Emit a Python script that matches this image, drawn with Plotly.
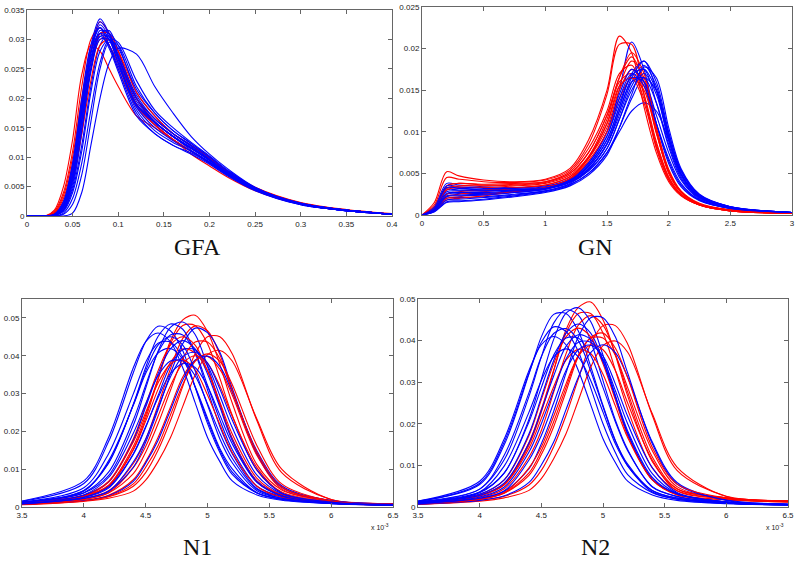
import plotly.graph_objects as go

# ---------------- data (y values in thousandths) ----------------
gfa_x = [0, 0.02, 0.03, 0.04, 0.05, 0.06, 0.07, 0.08, 0.09, 0.10, 0.12, 0.14, 0.16, 0.18, 0.20, 0.22, 0.25, 0.30, 0.35, 0.40]
gfa_red = [
    [0, 0, 0.8, 4, 11, 22, 30, 32, 29, 25, 18.5, 15.5, 13, 11, 9, 7, 4.5, 2, 1, 0.3],
    [0, 0, 0.5, 3, 9, 19, 28, 33, 31, 27, 19, 16, 13.5, 11.5, 9.5, 7.5, 4.8, 2.2, 1.0, 0.3],
    [0, 0, 0.3, 2, 7, 16, 25, 30, 30, 27, 20, 16, 13.5, 11.5, 9.5, 7.2, 4.6, 2.1, 1.0, 0.3],
    [0, 0, 1, 5, 13, 24, 29, 28, 25, 22, 17, 15, 13, 11, 9, 7, 4.4, 2.0, 1.0, 0.3],
    [0, 0, 0.4, 2.5, 8, 17, 26, 31, 31, 28, 20, 16.5, 14, 12, 10, 7.6, 4.9, 2.3, 1.1, 0.4],
    [0, 0, 0.6, 3.5, 10, 20, 28, 31, 29, 26, 19, 15.5, 13, 10.5, 8.5, 6.6, 4.3, 2.0, 0.9, 0.3],
    [0, 0, 0.2, 1.5, 6, 14, 23, 29, 30, 28, 21, 17, 14, 12, 9.8, 7.5, 4.8, 2.2, 1.0, 0.3],
]
gfa_blue = [
    [0, 0, 0.2, 2, 8, 19, 29, 33.5, 31, 27, 19, 15.5, 13, 11, 9, 7, 4.5, 2, 0.9, 0.3],
    [0, 0, 0.1, 1.5, 7, 17, 28, 33, 31, 27, 20, 16, 13.5, 11.5, 9.5, 7.2, 4.6, 2.1, 1, 0.3],
    [0, 0, 0.1, 1, 5, 14, 25, 31, 31.5, 28, 20, 16, 13.5, 11.5, 9.5, 7.3, 4.6, 2.1, 1, 0.3],
    [0, 0, 0.2, 1.8, 7.5, 18, 28, 32, 30, 26, 18, 14.5, 12.5, 11, 9.2, 7.1, 4.4, 1.9, 0.9, 0.3],
    [0, 0, 0.1, 1, 4.5, 12, 22, 29, 31, 29, 21, 17, 14, 12, 9.8, 7.4, 4.6, 2.0, 0.9, 0.3],
    [0, 0, 0.1, 0.8, 4, 11, 21, 28, 30, 28.5, 21.5, 17.5, 14.5, 12.3, 10, 7.6, 4.7, 2.1, 1, 0.3],
    [0, 0, 0.2, 2, 8, 18, 27, 31, 30, 26, 19, 16, 13.5, 11.5, 9.4, 7.2, 4.5, 2.0, 0.9, 0.3],
    [0, 0, 0.3, 2.5, 9, 20, 29, 32, 29, 25, 17.5, 14, 12, 10.5, 8.8, 6.8, 4.3, 1.9, 0.9, 0.3],
    [0, 0, 0, 0.5, 3, 9, 18, 26, 30, 29.5, 23, 18, 15, 12.5, 10.2, 7.8, 4.8, 2.1, 1, 0.3],
    [0, 0, 0, 0, 0.5, 4, 12, 20, 26, 28.5, 27.5, 22, 17.5, 13.5, 10.5, 8, 4.9, 2.1, 1, 0.3],
    [0, 0, 0, 0.3, 2, 7, 16, 25, 29.5, 29, 22, 17.5, 14.5, 12.3, 10, 7.6, 4.7, 2.1, 1, 0.3],
    [0, 0, 0.2, 1.5, 6.5, 16, 26, 31.5, 31, 27, 19.5, 16, 13.5, 11.2, 9.2, 7, 4.4, 2, 0.9, 0.3],
    [0, 0, 0.1, 1.2, 6, 15, 25, 30.5, 30.5, 27.5, 20.5, 16.5, 14, 11.8, 9.6, 7.3, 4.6, 2.1, 1, 0.3],
    [0, 0, 0.3, 2.2, 8.5, 19, 28, 31, 28.5, 24.5, 17, 14, 12, 10.7, 9, 7, 4.5, 2.0, 0.9, 0.3],
    [0, 0, 0.2, 1.7, 7, 17.5, 27.5, 32.5, 30.5, 26.5, 18.5, 15, 12.8, 11, 9.1, 7, 4.4, 2, 0.9, 0.3],
    [0, 0, 0.1, 1.1, 5.5, 14.5, 24.5, 30, 30, 27, 20, 16.5, 14, 12, 9.7, 7.4, 4.7, 2.2, 1, 0.3],
    [0, 0, 0.2, 1.6, 6.8, 16.5, 26.5, 30.5, 29, 25.5, 18.8, 15.8, 13.6, 11.6, 9.5, 7.2, 4.5, 2, 0.9, 0.3],
]

gn_x = [0, 0.1, 0.2, 0.3, 0.5, 0.75, 1.0, 1.2, 1.35, 1.5, 1.6, 1.7, 1.8, 1.9, 2.0, 2.1, 2.25, 2.5, 3.0]
gn_red = [
    [0, 1.5, 5.2, 4.7, 4.2, 4.0, 4.3, 5.6, 9, 15, 21.5, 19.5, 13, 7.5, 4, 2.3, 1.2, 0.5, 0.2],
    [0, 1.2, 4.5, 4.3, 4.0, 3.9, 4.2, 5.4, 8.5, 14.5, 20.5, 20.5, 14.5, 8, 4.2, 2.4, 1.2, 0.5, 0.2],
    [0, 0.8, 3.5, 3.8, 3.7, 3.8, 4.0, 5.0, 7.5, 12, 16.5, 19, 16, 10, 5, 2.7, 1.3, 0.6, 0.2],
    [0, 0.7, 3, 3.3, 3.3, 3.5, 3.8, 4.8, 7, 11, 15.5, 18.5, 16.5, 10.5, 5.5, 2.9, 1.4, 0.6, 0.2],
    [0, 0.6, 2.5, 2.8, 3, 3.3, 3.6, 4.6, 6.8, 10.5, 15, 17.5, 15.5, 10, 5.2, 2.8, 1.3, 0.6, 0.2],
    [0, 0.5, 2.2, 2.5, 2.8, 3.2, 3.6, 4.6, 7, 11.5, 16, 17, 14, 8.5, 4.5, 2.5, 1.2, 0.5, 0.2],
    [0, 0.9, 3.5, 3.8, 3.6, 3.7, 4.0, 5.2, 8, 12.5, 17, 18, 14.5, 8.8, 4.6, 2.5, 1.2, 0.5, 0.2],
    [0, 0.6, 2, 2.2, 2.5, 2.9, 3.3, 4.3, 6.5, 10, 14, 16.5, 15, 9.8, 5.2, 2.8, 1.3, 0.6, 0.2],
    [0, 0.8, 3.2, 3.5, 3.5, 3.6, 3.9, 5, 7.5, 12, 16.5, 19.5, 17, 10.5, 5.3, 2.8, 1.3, 0.6, 0.2],
    [0, 0.5, 1.8, 2.0, 2.3, 2.8, 3.3, 4.4, 6.8, 11, 15.5, 16.5, 13.5, 8.2, 4.3, 2.4, 1.2, 0.5, 0.2],
]
gn_blue = [
    [0, 1, 3.8, 3.6, 3.4, 3.3, 3.5, 4.3, 6.2, 10, 15, 20.8, 17.5, 11, 6.2, 3.4, 1.7, 0.8, 0.3],
    [0, 0.8, 3.2, 3.2, 3.1, 3.1, 3.3, 4.1, 5.8, 9, 13, 17, 18.5, 15, 9, 4.8, 2.1, 0.9, 0.3],
    [0, 0.7, 3, 3, 2.9, 3, 3.2, 4, 5.5, 8.5, 12, 16, 18, 15.5, 9.5, 5, 2.2, 0.9, 0.3],
    [0, 0.6, 2.5, 2.6, 2.6, 2.8, 3.1, 3.9, 5.3, 8, 11.5, 15.5, 17.5, 15, 9.3, 5, 2.2, 0.9, 0.3],
    [0, 0.5, 2, 2.1, 2.2, 2.5, 2.9, 3.7, 5, 7.5, 10.5, 14, 16.5, 15, 9.8, 5.4, 2.4, 1, 0.3],
    [0, 0.4, 1.6, 1.7, 1.9, 2.3, 2.8, 3.6, 5, 7.5, 10, 12.5, 13.5, 12.5, 9, 5.3, 2.4, 1, 0.3],
    [0, 0.9, 3.5, 3.4, 3.2, 3.2, 3.4, 4.4, 6.3, 10, 14.5, 17.5, 16, 11, 6.5, 3.6, 1.8, 0.8, 0.3],
    [0, 0.6, 2.3, 2.4, 2.5, 2.7, 3.1, 4.1, 6, 9.5, 13.5, 16.5, 16, 12, 7.5, 4.2, 1.9, 0.8, 0.3],
    [0, 0.7, 2.8, 2.9, 2.9, 3, 3.3, 4.2, 5.8, 9, 13, 16.8, 17.5, 13.5, 8.2, 4.4, 2.0, 0.9, 0.3],
    [0, 0.5, 1.8, 1.9, 2.1, 2.4, 2.9, 3.8, 5.3, 8, 11.5, 15, 17, 14.5, 9, 4.9, 2.2, 0.9, 0.3],
    [0, 0.8, 3.3, 3.2, 3.0, 3.0, 3.2, 4.0, 5.5, 8.5, 12.5, 16.5, 18.5, 16, 10, 5.3, 2.3, 1, 0.3],
    [0, 0.4, 1.5, 1.6, 1.8, 2.2, 2.7, 3.5, 4.8, 7.2, 10.5, 14.5, 17.8, 16.5, 10.5, 5.6, 2.5, 1, 0.3],
    [0, 0.6, 2.6, 2.7, 2.7, 2.9, 3.2, 4.2, 6, 9.5, 14, 17, 15.5, 11, 6.8, 3.8, 1.8, 0.8, 0.3],
    [0, 0.5, 2.2, 2.3, 2.4, 2.7, 3.1, 4, 5.6, 8.6, 12.5, 16, 16.5, 13.5, 8.5, 4.6, 2.1, 0.9, 0.3],
]

n_x = [3.5, 4.0, 4.2, 4.4, 4.5, 4.6, 4.7, 4.8, 4.9, 5.0, 5.1, 5.2, 5.4, 5.6, 6.0, 6.5]
n1_red = [
    [1.1, 2.9, 5.6, 15.3, 23.5, 33.7, 43.9, 49.5, 50.7, 46.4, 37.7, 27.5, 11.2, 4.5, 1.6, 0.8],
    [1.0, 2.9, 5.8, 16.0, 24.3, 34.0, 43.2, 48.0, 48.0, 43.2, 34.0, 24.3, 9.7, 4.0, 1.5, 0.7],
    [0.9, 2.3, 4.3, 11.5, 17.8, 26.9, 36.5, 44.6, 47.9, 46.6, 40.3, 30.7, 13.9, 4.8, 1.7, 0.8],
    [0.7, 1.7, 2.7, 5.5, 9.1, 15.0, 22.8, 31.9, 40.5, 45.0, 45.0, 40.5, 22.8, 9.1, 2.0, 0.9],
    [0.6, 1.5, 2.3, 4.2, 7.1, 12.0, 18.3, 26.6, 34.9, 40.3, 41.4, 38.6, 23.2, 10.0, 2.0, 0.8],
    [0.7, 1.7, 3.1, 7.2, 12.0, 18.4, 26.4, 34.4, 38.8, 39.8, 36.4, 29.6, 13.6, 5.2, 1.6, 0.6],
    [1.1, 3.2, 6.8, 18.0, 27.0, 36.0, 42.8, 45.0, 42.8, 36.0, 27.0, 18.0, 6.8, 3.2, 1.2, 0.6],
    [0.9, 2.7, 5.5, 15.1, 22.7, 31.1, 38.2, 41.8, 40.7, 36.1, 27.7, 19.3, 7.6, 3.3, 1.2, 0.6],
    [0.8, 2.0, 3.8, 10.4, 16.0, 24.0, 32.0, 38.0, 40.0, 38.0, 32.0, 24.0, 10.4, 3.8, 1.4, 0.6],
    [1.0, 2.9, 6.6, 17.2, 25.0, 32.8, 37.8, 38.9, 36.3, 29.6, 21.8, 14.4, 5.5, 2.6, 1.0, 0.5],
    [0.8, 2.0, 3.7, 8.8, 14.5, 22.0, 30.8, 39.2, 43.6, 43.6, 39.2, 30.8, 14.5, 5.3, 1.6, 0.7],
    [0.7, 1.6, 2.8, 6.1, 10.5, 16.2, 24.3, 32.4, 38.5, 40.5, 38.5, 32.4, 16.2, 6.1, 1.6, 0.7],
]
n1_blue = [
    [1.5, 6.2, 17.3, 35.5, 43.7, 47.8, 46.6, 41.3, 31.7, 22.1, 14.4, 8.6, 3.7, 2.1, 1.0, 0.5],
    [1.3, 5.1, 14.1, 29.9, 38.3, 43.3, 43.6, 39.6, 31.7, 22.9, 15.0, 9.2, 3.7, 2.0, 1.0, 0.5],
    [1.2, 4.2, 12.2, 26.9, 35.3, 40.7, 41.9, 39.1, 31.9, 23.5, 15.5, 10.1, 3.8, 2.0, 0.9, 0.5],
    [1.3, 4.4, 11.6, 27.2, 36.9, 45.1, 48.4, 47.0, 40.7, 31.0, 21.3, 14.1, 4.9, 2.6, 1.2, 0.6],
    [1.2, 3.8, 9.2, 23.0, 32.2, 40.9, 45.5, 45.5, 40.9, 32.2, 23.0, 15.2, 5.5, 2.8, 1.2, 0.6],
    [1.2, 3.7, 8.3, 21.6, 31.4, 41.2, 47.5, 48.9, 45.6, 37.2, 27.4, 18.1, 6.9, 3.2, 1.3, 0.6],
    [1.1, 3.1, 6.6, 17.6, 26.4, 35.2, 41.8, 44.0, 41.8, 35.2, 26.4, 17.6, 6.6, 3.1, 1.2, 0.6],
    [0.9, 2.5, 5.0, 13.9, 21.0, 29.4, 37.4, 41.6, 41.6, 37.4, 29.4, 21.0, 8.4, 3.5, 1.3, 0.6],
    [0.9, 2.2, 4.2, 10.5, 17.1, 25.7, 35.2, 43.2, 47.3, 46.1, 40.9, 31.4, 14.3, 5.2, 1.7, 0.8],
    [0.7, 1.7, 3.0, 6.8, 11.6, 17.6, 25.6, 33.6, 38.8, 39.9, 37.2, 30.4, 14.8, 5.6, 1.6, 0.6],
    [1.0, 3.2, 7.8, 19.5, 27.3, 34.7, 38.6, 38.6, 34.7, 27.3, 19.5, 12.9, 4.7, 2.3, 1.0, 0.5],
    [1.2, 4.3, 11.7, 27.0, 36.0, 42.8, 45.0, 42.8, 36.0, 27.0, 18.0, 11.7, 4.3, 2.3, 1.0, 0.5],
    [0.9, 2.6, 5.3, 14.1, 21.3, 28.9, 35.3, 37.9, 36.9, 31.9, 24.3, 16.7, 6.5, 2.9, 1.1, 0.5],
    [1.6, 6.9, 18.4, 36.8, 43.7, 46.0, 43.7, 36.8, 27.6, 18.4, 12.0, 6.9, 3.2, 1.8, 0.9, 0.5],
    [0.8, 2.3, 4.1, 11.9, 18.0, 26.2, 34.4, 39.8, 40.9, 38.1, 31.2, 23.0, 9.8, 3.7, 1.3, 0.6],
]
n2_red = [
    [1.0, 2.8, 5.4, 14.9, 22.8, 32.7, 42.6, 48.0, 49.3, 45.0, 36.6, 26.7, 10.9, 4.4, 2.2, 1.4],
    [1.0, 2.8, 5.6, 15.5, 23.5, 32.9, 41.8, 46.5, 46.5, 41.8, 32.9, 23.5, 9.4, 3.9, 2.0, 1.3],
    [0.9, 2.3, 4.4, 12.0, 18.4, 27.6, 36.8, 43.7, 46.0, 43.7, 36.8, 27.6, 12.0, 4.4, 2.2, 1.4],
    [0.7, 1.6, 2.6, 5.3, 8.8, 14.5, 22.0, 30.8, 39.2, 43.6, 43.6, 39.2, 22.0, 8.8, 2.6, 1.5],
    [0.6, 1.4, 2.2, 4.0, 6.8, 11.6, 17.6, 25.6, 33.6, 38.8, 39.9, 37.2, 22.4, 9.6, 2.5, 1.5],
    [1.0, 3.0, 6.5, 17.2, 25.8, 34.4, 40.9, 43.0, 40.9, 34.4, 25.8, 17.2, 6.5, 3.0, 1.8, 1.2],
    [0.8, 1.8, 3.4, 8.2, 13.5, 20.5, 28.7, 36.5, 40.6, 40.6, 36.5, 28.7, 13.5, 4.9, 2.1, 1.4],
    [0.9, 2.6, 5.3, 14.1, 21.3, 28.9, 35.3, 37.9, 36.9, 31.9, 24.3, 16.7, 6.5, 2.9, 1.7, 1.2],
    [0.7, 1.9, 3.5, 9.4, 14.4, 21.8, 29.6, 36.3, 38.9, 37.8, 32.8, 25.0, 11.3, 3.9, 2.0, 1.3],
    [0.8, 1.8, 3.3, 7.6, 12.6, 19.3, 27.7, 36.1, 40.7, 41.8, 38.2, 31.1, 14.3, 5.5, 2.2, 1.4],
]
n2_blue = [
    [1.4, 5.4, 15.0, 32.0, 40.9, 46.3, 46.5, 42.3, 33.8, 24.4, 16.0, 9.9, 4.0, 2.2, 1.0, 0.6],
    [1.3, 4.3, 11.4, 26.6, 36.1, 44.2, 47.4, 46.1, 39.9, 30.4, 20.9, 13.8, 4.8, 2.6, 1.1, 0.6],
    [1.2, 3.6, 8.2, 21.1, 30.7, 40.3, 46.6, 47.9, 44.6, 36.5, 26.9, 17.8, 6.7, 3.2, 1.2, 0.6],
    [1.3, 5.7, 15.7, 32.2, 39.6, 43.3, 42.2, 37.4, 28.7, 20.0, 13.1, 7.8, 3.4, 1.9, 0.9, 0.5],
    [1.4, 6.2, 16.4, 32.8, 39.0, 41.0, 39.0, 32.8, 24.6, 16.4, 10.7, 6.2, 2.9, 1.6, 0.8, 0.5],
    [1.1, 3.1, 6.6, 17.6, 26.4, 35.2, 41.8, 44.0, 41.8, 35.2, 26.4, 17.6, 6.6, 3.1, 1.2, 0.6],
    [1.1, 3.4, 8.2, 20.5, 28.7, 36.5, 40.6, 40.6, 36.5, 28.7, 20.5, 13.5, 4.9, 2.5, 1.1, 0.5],
    [0.9, 2.1, 3.8, 9.2, 15.2, 23.0, 32.2, 40.9, 45.5, 45.5, 40.9, 32.2, 15.2, 5.5, 1.7, 0.7],
    [0.7, 1.6, 2.7, 5.9, 10.1, 15.6, 23.4, 31.2, 37.1, 39.0, 37.1, 31.2, 15.6, 5.9, 1.6, 0.7],
    [0.8, 2.4, 4.8, 13.2, 20.0, 28.0, 35.6, 39.6, 39.6, 35.6, 28.0, 20.0, 8.0, 3.3, 1.2, 0.6],
    [1.0, 3.6, 9.9, 22.8, 30.4, 36.1, 38.0, 36.1, 30.4, 22.8, 15.2, 9.9, 3.6, 1.9, 0.9, 0.5],
    [1.2, 4.3, 12.5, 27.5, 36.1, 41.7, 42.9, 40.0, 32.7, 24.1, 15.9, 10.3, 3.9, 2.1, 0.9, 0.5],
    [0.8, 2.1, 3.9, 11.3, 17.2, 25.0, 32.8, 37.8, 38.9, 36.3, 29.6, 21.8, 9.4, 3.5, 1.2, 0.6],
    [1.0, 2.8, 5.8, 15.4, 23.2, 31.5, 38.6, 41.4, 40.3, 34.9, 26.6, 18.3, 7.1, 3.1, 1.2, 0.6],
]

gfa_xticks = [0, 0.05, 0.1, 0.15, 0.2, 0.25, 0.3, 0.35, 0.4]
gfa_yticks = [0, 0.005, 0.01, 0.015, 0.02, 0.025, 0.03, 0.035]
gn_xticks = [0, 0.5, 1, 1.5, 2, 2.5, 3]
gn_yticks = [0, 0.005, 0.01, 0.015, 0.02, 0.025]
n_xticks = [3.5, 4, 4.5, 5, 5.5, 6, 6.5]
n_yticks = [0, 0.01, 0.02, 0.03, 0.04, 0.05]

panel_titles = ["GFA", "GN", "N1", "N2"]

# ---------------- figure ----------------
RED = "#ff0000"
BLUE = "#0000ff"
fig = go.Figure()


def add_panel(xs, reds, blues, axis):
    xa = "x" if axis == 1 else "x%d" % axis
    ya = "y" if axis == 1 else "y%d" % axis
    order = []
    n = max(len(reds), len(blues))
    for i in range(n):
        if i < len(reds):
            order.append((reds[i], RED))
        if i < len(blues):
            order.append((blues[i], BLUE))
    for ys, col in order:
        fig.add_trace(go.Scatter(
            x=xs, y=[v / 1000 for v in ys], mode="lines",
            line=dict(color=col, width=1.1, shape="spline", smoothing=0.9),
            xaxis=xa, yaxis=ya, showlegend=False, hoverinfo="skip"))


add_panel(gfa_x, gfa_red, gfa_blue, 1)
add_panel(gn_x, gn_red, gn_blue, 2)
add_panel(n_x, n1_red, n1_blue, 3)
add_panel(n_x, n2_red, n2_blue, 4)

H = 565.0
W = 800.0


def ax_common(ticks):
    return dict(showline=True, linecolor="#666666", linewidth=1, mirror="ticks",
                ticks="inside", ticklen=4, tickcolor="#666666", showgrid=False,
                zeroline=False, tickmode="array", tickvals=ticks, automargin=False,
                ticktext=[("%g" % t) for t in ticks],
                tickfont=dict(family="Liberation Sans, Arial", size=8, color="#222222"))


def dom_x(a, b):
    return [a / W, b / W]


def dom_y(top, bottom):
    return [(H - bottom) / H, (H - top) / H]


layout = dict(width=800, height=565, margin=dict(l=0, r=0, t=0, b=0, pad=0),
              paper_bgcolor="white", plot_bgcolor="white")

layout["xaxis"] = dict(ax_common(gfa_xticks), domain=dom_x(27, 392), range=[0, 0.4], anchor="y")
layout["yaxis"] = dict(ax_common(gfa_yticks), domain=dom_y(10, 216), range=[0, 0.035], anchor="x")
layout["xaxis2"] = dict(ax_common(gn_xticks), domain=dom_x(422, 792), range=[0, 3], anchor="y2")
layout["yaxis2"] = dict(ax_common(gn_yticks), domain=dom_y(7, 215), range=[0, 0.025], anchor="x2")
layout["xaxis3"] = dict(ax_common(n_xticks), domain=dom_x(22, 393), range=[3.5, 6.5], anchor="y3")
layout["yaxis3"] = dict(ax_common(n_yticks), domain=dom_y(299, 507), range=[0, 0.055], anchor="x3")
layout["xaxis4"] = dict(ax_common(n_xticks), domain=dom_x(418, 788), range=[3.5, 6.5], anchor="y4")
layout["yaxis4"] = dict(ax_common(n_yticks), domain=dom_y(299, 507), range=[0, 0.05], anchor="x4")

fig.update_layout(**layout)

title_pos = [(197, 247), (595, 247), (197, 547), (595, 547)]
for t, (px, py) in zip(panel_titles, title_pos):
    fig.add_annotation(text=t, x=px / W, y=(H - py) / H, xref="paper", yref="paper",
                       showarrow=False, xanchor="center", yanchor="middle",
                       font=dict(family="Liberation Serif, Times New Roman", size=24, color="#111111"))

for px in (380, 775):
    fig.add_annotation(text="x 10<sup>-3</sup>", x=px / W, y=(H - 527) / H, xref="paper", yref="paper",
                       showarrow=False, xanchor="center", yanchor="middle",
                       font=dict(family="Liberation Sans, Arial", size=7, color="#222222"))

fig.write_html("out.html", config={"displayModeBar": False},
               post_script="document.body.style.margin='0';")
